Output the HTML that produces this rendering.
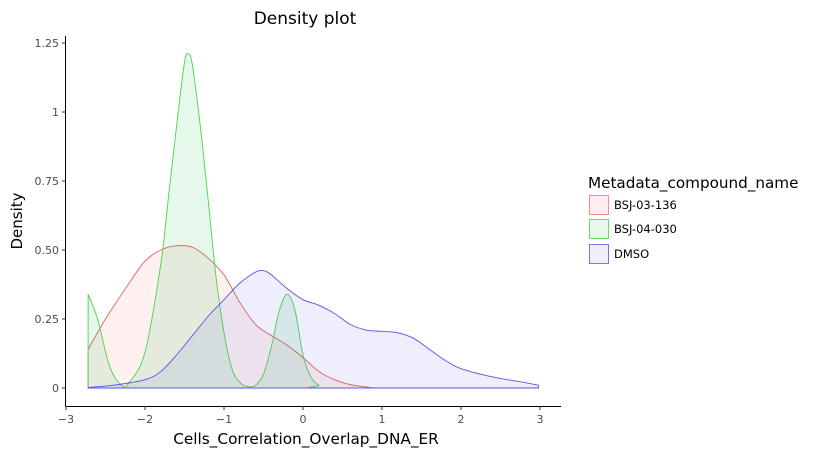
<!DOCTYPE html>
<html><head><meta charset="utf-8"><style>
body{margin:0;background:#fff;font-family:"Liberation Sans","DejaVu Sans",sans-serif}
svg text{font-family:"DejaVu Sans","Liberation Sans",sans-serif}
</style></head><body>
<svg id="chart" width="827" height="458" xmlns="http://www.w3.org/2000/svg">
<text x="305" y="24" font-size="17" text-anchor="middle" fill="#000">Density plot</text>
<g id="plot"></g>
<g id="axes"></g>
<text x="306" y="444" font-size="15.3" text-anchor="middle" fill="#000">Cells_Correlation_Overlap_DNA_ER</text>
<text transform="translate(22,221) rotate(-90)" font-size="15" text-anchor="middle" fill="#000">Density</text>
<g>
<text x="588" y="188" font-size="15.2" fill="#000">Metadata_compound_name</text>
<g><rect x="589.5" y="195.5" width="19" height="19" fill="#F8766D" fill-opacity="0.12" stroke="#F8766D" stroke-width="0.8"/><text x="614" y="209" font-size="11.5">BSJ-03-136</text></g>
<g><rect x="589.5" y="219.5" width="19" height="19" fill="#00BA38" fill-opacity="0.1" stroke="#4cd34c" stroke-width="0.8"/><text x="614" y="233" font-size="11.5">BSJ-04-030</text></g>
<g><rect x="589.5" y="244.5" width="19" height="19" fill="#5a55e0" fill-opacity="0.1" stroke="#5a55e0" stroke-width="0.8"/><text x="614" y="258" font-size="11.5">DMSO</text></g>
</g>
</svg>
<script>
const xTicks=[-3,-2,-1,0,1,2,3];
const xTickLabels=["\u22123","\u22122","\u22121","0","1","2","3"];
const yTicks=[0,0.25,0.5,0.75,1,1.25];
const yTickLabels=["0","0.25","0.50","0.75","1","1.25"];
const redX=[-2.72,-2.5,-2.2,-2,-1.8,-1.6,-1.4,-1.2,-1,-0.8,-0.6,-0.4,-0.2,0,0.2,0.4,0.6,0.8,1,2,2.98];
const redY=[0.14,0.25,0.38,0.46,0.50,0.515,0.51,0.47,0.41,0.31,0.23,0.19,0.155,0.11,0.06,0.03,0.012,0.004,0,0,0];
const greenX=[-2.72,-2.6,-2.45,-2.3,-2.2,-2,-1.8,-1.7,-1.6,-1.5,-1.45,-1.4,-1.3,-1.2,-1.1,-1,-0.9,-0.8,-0.7,-0.6,-0.5,-0.4,-0.3,-0.2,-0.1,0,0.1,0.2,0.3,2.98];
const greenY=[0.34,0.25,0.08,0.01,0.02,0.13,0.45,0.7,0.95,1.18,1.21,1.17,0.95,0.68,0.4,0.2,0.07,0.02,0.005,0.01,0.05,0.15,0.28,0.34,0.28,0.12,0.04,0.01,0,0];
const blueX=[-2.72,-2.4,-2,-1.8,-1.6,-1.4,-1.2,-1,-0.8,-0.6,-0.5,-0.4,-0.2,0,0.2,0.4,0.6,0.8,1,1.2,1.4,1.6,1.8,2,2.4,2.8,2.98];
const blueY=[0.002,0.01,0.03,0.06,0.12,0.19,0.26,0.32,0.38,0.42,0.425,0.41,0.36,0.32,0.30,0.27,0.23,0.21,0.205,0.20,0.18,0.14,0.1,0.07,0.04,0.02,0.01];
const sx=v=>303+79*v, sy=v=>388-276*v;
const NS="http://www.w3.org/2000/svg";
const plot=document.getElementById('plot'), axes=document.getElementById('axes');
function smooth(xs,ys){let p=xs.map((x,i)=>[sx(x),sy(ys[i])]);let d="M"+p[0][0]+","+p[0][1];
for(let i=0;i<p.length-1;i++){const p0=p[Math.max(0,i-1)],p1=p[i],p2=p[i+1],p3=p[Math.min(p.length-1,i+2)];
const c1=[p1[0]+(p2[0]-p0[0])/6,p1[1]+(p2[1]-p0[1])/6],c2=[p2[0]-(p3[0]-p1[0])/6,p2[1]-(p3[1]-p1[1])/6];
c1[1]=Math.min(c1[1],388);c2[1]=Math.min(c2[1],388);
d+=` C${c1[0]},${c1[1]} ${c2[0]},${c2[1]} ${p2[0]},${p2[1]}`;}
return d;}
function series(xs,ys,fill,stroke,name){const d=smooth(xs,ys);
const a=document.createElementNS(NS,'path');
a.setAttribute('d',d+` L${sx(xs[xs.length-1])},${sy(0)} L${sx(xs[0])},${sy(0)} Z`);
a.setAttribute('fill',fill);a.setAttribute('fill-opacity','0.1');a.setAttribute('stroke',stroke);a.setAttribute('stroke-width','0.9');


plot.appendChild(a);}
series(redX,redY,'#F8766D','#e0605a','density-bsj-03-136');
series(greenX,greenY,'#00BA38','#4cd34c','density-bsj-04-030');
series(blueX,blueY,'#5a55e0','#5a55e0','density-dmso');
function el(t,at,txt){const e=document.createElementNS(NS,t);for(const k in at)e.setAttribute(k,at[k]);if(txt!==undefined)e.textContent=txt;axes.appendChild(e);return e;}
const xl=el('line',{x1:65.5,y1:406.5,x2:561,y2:406.5,stroke:'#000','stroke-width':1});


const yl=el('line',{x1:65.5,y1:36,x2:65.5,y2:406.5,stroke:'#000','stroke-width':1});


xTicks.forEach((v,i)=>{el('line',{x1:sx(v),x2:sx(v),y1:406,y2:410,stroke:'#333'});
const t=el('text',{x:sx(v),y:423,'font-size':11,'text-anchor':'middle',fill:'#4d4d4d'},xTickLabels[i]);

});
yTicks.forEach((v,i)=>{el('line',{x1:62,x2:65.5,y1:sy(v),y2:sy(v),stroke:'#333'});
const t=el('text',{x:59,y:sy(v)+4,'font-size':11,'text-anchor':'end',fill:'#4d4d4d'},yTickLabels[i]);

});
</script>
</body></html>
